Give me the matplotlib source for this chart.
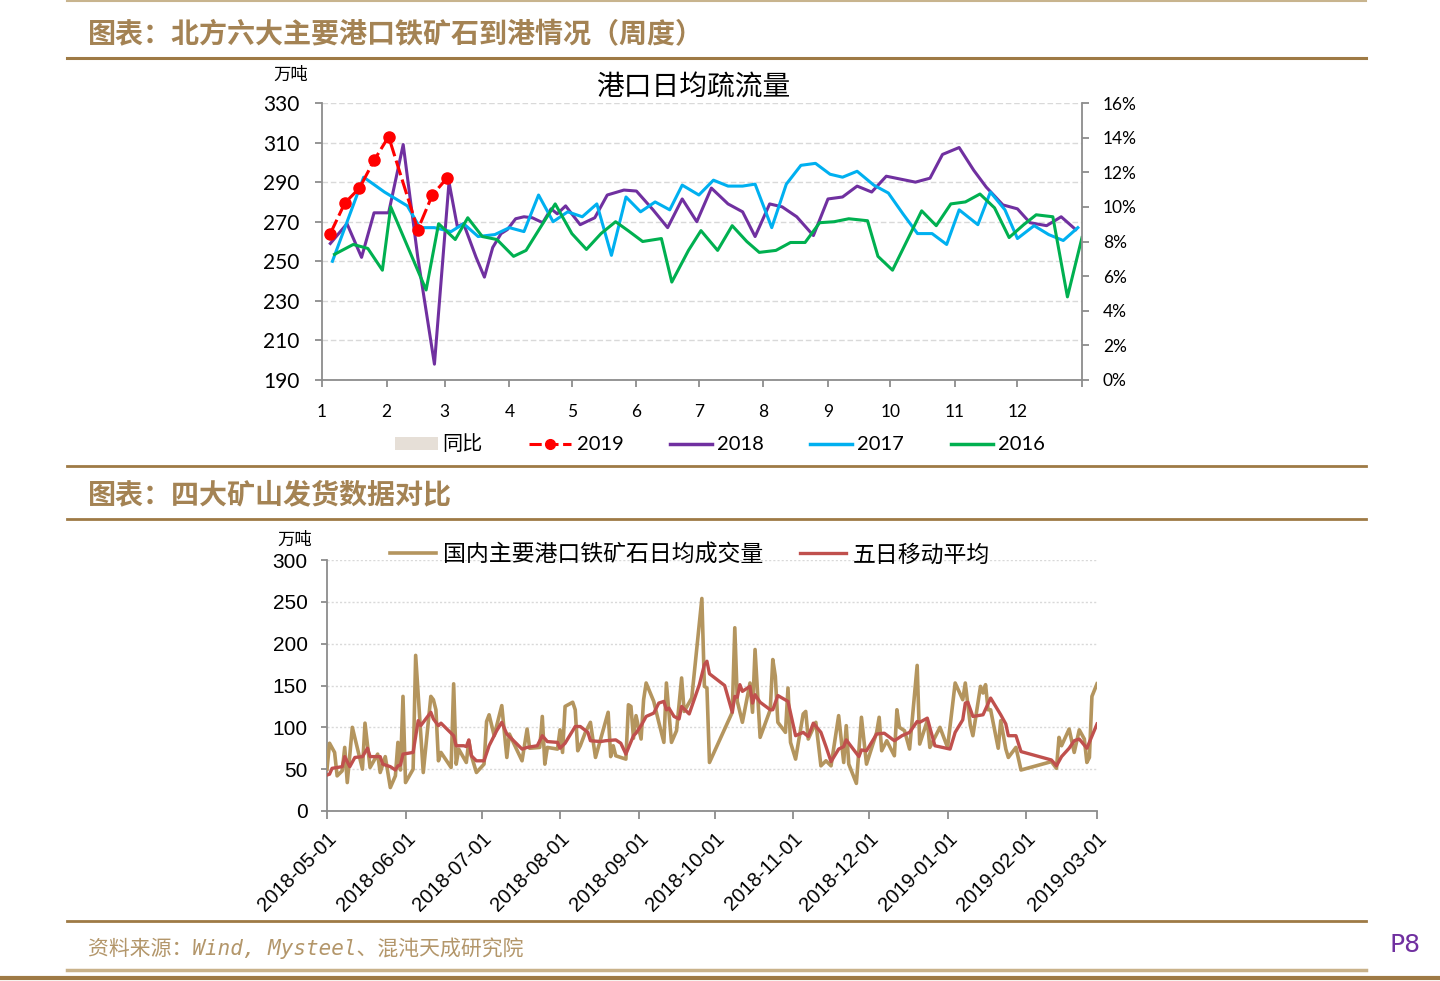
import numpy as np
import matplotlib
matplotlib.use('Agg')
import matplotlib.pyplot as plt
from matplotlib.lines import Line2D
from matplotlib.patches import Patch
from matplotlib.ticker import PercentFormatter

plt.rcParams['font.family'] = ['Lato', 'Noto Sans CJK SC', 'DejaVu Sans']

# ---- top chart: weekly port arrivals, x = day of year ----
month_start = [0, 31, 59, 90, 120, 151, 181, 212, 243, 273, 304, 334, 365]
month_labels = ['1', '2', '3', '4', '5', '6', '7', '8', '9', '10', '11', '12', '']

d2019 = [4, 11, 18, 25, 32, 46, 53, 60]
v2019 = [264, 279.5, 287, 301, 313, 266, 283.5, 292]

d2018 = [4, 12, 19, 25, 32, 39, 46, 54, 61, 65,
         68, 74, 78, 82, 86, 89, 93, 97, 101, 106,
         110, 113, 117, 124, 131, 137, 145, 151, 159, 166,
         173, 180, 187, 195, 202, 208, 215, 221, 228, 236,
         243, 250, 257, 264, 271, 278, 285, 292, 298, 306,
         313, 319, 327, 334, 340, 348, 355, 362]
v2018 = [259, 269, 252, 274.5, 274.5, 309, 252, 198, 290, 267.5,
         269, 252, 242, 257, 264, 266, 271.5, 272.5, 272, 269.5,
         276.5, 274, 278, 268.5, 272, 283.5, 286, 285.5, 276, 267,
         281.5, 270, 287, 279, 275, 262.5, 279, 277.5, 272.5, 263,
         281.5, 282.5, 288, 285, 293, 291.5, 290, 292, 304, 307.5,
         296, 287.5, 278.5, 276.5, 269.5, 268, 272.5, 266]

d2017 = [5, 20, 30, 41, 47, 54, 62, 68, 75, 83,
         90, 97, 104, 111, 118, 125, 132, 139, 146, 153,
         160, 167, 173, 181, 188, 195, 202, 208, 216, 223,
         230, 237, 244, 250, 257, 265, 272, 279, 286, 293,
         300, 306, 315, 321, 328, 334, 342, 349, 356, 363]
v2017 = [250, 292.5, 285, 278, 267, 267, 265, 269, 262.5, 263.5,
         267, 265, 283.5, 270, 275, 272.5, 279, 253, 282.5, 275,
         280, 276, 288.5, 283.5, 291, 288, 288, 289, 267, 289,
         298.5, 299.5, 294, 292.5, 295.5, 288.5, 284.5, 274, 264, 264,
         258.5, 276, 268.5, 285, 276, 261.5, 268, 263.5, 260.5, 267]

d2016 = [6, 15, 22, 29, 33, 50, 56, 64, 70, 77,
         84, 92, 98, 106, 112, 120, 127, 134, 141, 147,
         154, 163, 168, 176, 182, 190, 197, 204, 210, 218,
         225, 232, 239, 246, 253, 262, 267, 274, 281, 288,
         295, 302, 309, 316, 323, 330, 337, 343, 351, 358,
         365]
v2016 = [253.5, 258.5, 256.5, 245.5, 277.5, 235.5, 269, 261, 272, 262.5,
         261, 252.5, 255.5, 269, 279, 264, 256, 264, 270, 265.5,
         260, 261.5, 239.5, 255.5, 265.5, 255.5, 268, 260, 254.5, 255.5,
         259.5, 259.5, 269.5, 270, 271.5, 270.5, 252.5, 245.5, 260.5, 275.5,
         268, 279, 280, 284, 277, 262, 268.5, 273.5, 272.5, 232,
         262]

# ---- bottom chart: daily trades, x = days since 2018-05-01 ----
trade_days = [0, 1, 3, 4, 6, 7, 8, 10, 14, 15,
              17, 20, 21, 23, 25, 27, 28, 29, 30, 31,
              34, 35, 38, 41, 42, 43, 44, 45, 49, 50,
              51, 52, 55, 56, 57, 59, 62, 63, 64, 66,
              69, 71, 72, 77, 79, 80, 84, 85, 86, 87,
              91, 92, 93, 94, 97, 98, 99, 100, 102, 104,
              106, 111, 112, 113, 114, 118, 119, 120, 121, 122,
              124, 125, 126, 129, 131, 133, 134, 136, 138, 140,
              141, 144, 148, 149, 150, 151, 160, 161, 162, 164,
              167, 168, 169, 171, 175, 176, 177, 178, 181, 182,
              183, 185, 188, 189, 190, 193, 195, 197, 199, 202,
              204, 205, 206, 209, 211, 213, 217, 218, 219, 221,
              224, 225, 226, 228, 230, 233, 234, 237, 238, 241,
              242, 245, 248, 251, 252, 254, 255, 258, 259, 260,
              261, 262, 265, 266, 268, 269, 272, 274, 286, 288,
              289, 290, 293, 295, 297, 299, 300, 301, 302, 304]
trade_vals = [50, 81, 70, 42, 48, 76, 34, 100, 50, 105,
              52, 68, 46, 65, 28, 42, 82, 49, 137, 34,
              50, 186, 46, 137, 133, 121, 60, 70, 52, 152,
              56, 74, 58, 84, 66, 46, 56, 107, 115, 90,
              126, 64, 92, 60, 98, 75, 76, 113, 56, 76,
              74, 97, 70, 125, 130, 121, 72, 78, 94, 106,
              64, 118, 65, 78, 66, 62, 127, 125, 87, 114,
              86, 133, 153, 131, 106, 82, 153, 82, 96, 159,
              119, 135, 254, 149, 147, 58, 118, 219, 131, 106,
              153, 118, 193, 88, 121, 181, 161, 106, 94, 147,
              82, 62, 116, 119, 86, 106, 54, 60, 54, 114,
              58, 102, 56, 33, 112, 56, 94, 112, 72, 84,
              66, 121, 100, 96, 74, 174, 80, 108, 76, 94,
              100, 76, 153, 133, 153, 102, 90, 149, 141, 151,
              121, 121, 75, 108, 74, 64, 76, 49, 59, 51,
              88, 78, 98, 70, 97, 86, 58, 64, 137, 152]

ma_days = [0, 1, 2, 6, 7, 9, 11, 14, 16, 17,
           21, 22, 25, 27, 28, 29, 30, 34, 36, 37,
           41, 42, 44, 45, 50, 51, 54, 55, 56, 57,
           59, 62, 64, 67, 69, 71, 73, 77, 79, 83,
           85, 87, 91, 92, 94, 98, 100, 103, 104, 108,
           110, 114, 116, 118, 121, 122, 124, 126, 129, 131,
           133, 134, 135, 137, 139, 140, 143, 147, 149, 150,
           151, 157, 160, 161, 162, 163, 164, 167, 168, 169,
           171, 175, 176, 178, 182, 185, 188, 190, 192, 195,
           197, 199, 202, 204, 205, 210, 211, 213, 217, 220,
           224, 227, 230, 233, 234, 237, 240, 246, 248, 251,
           252, 253, 255, 259, 262, 266, 268, 269, 272, 274,
           286, 288, 290, 293, 295, 297, 300, 304]
ma_vals = [43, 44, 51, 53, 65, 53, 64, 65, 75, 65,
           65, 56, 53, 49, 54, 55, 68, 70, 108, 102,
           118, 110, 102, 105, 90, 78, 78, 77, 85, 66,
           60, 60, 78, 96, 106, 92, 86, 74, 76, 78,
           90, 83, 82, 75, 81, 101, 101, 94, 84, 83,
           84, 85, 81, 68, 90, 93, 102, 113, 117, 129,
           131, 121, 123, 113, 110, 125, 116, 151, 175, 179,
           164, 150, 118, 137, 136, 151, 143, 149, 129, 139,
           130, 121, 121, 138, 131, 90, 94, 89, 105, 94,
           77, 59, 74, 77, 85, 65, 73, 72, 92, 93,
           84, 90, 94, 107, 106, 111, 78, 74, 94, 109,
           129, 130, 113, 115, 135, 115, 104, 90, 90, 71,
           61, 54, 65, 75, 84, 86, 75, 104]

W, H = 1440, 981
def fx(px):
    return px / W
def fy(py):
    return 1 - py / H

brown = '#A48354'
line_brown = '#9E7A45'
grid_c = '#D9D9D9'
spine_c = '#8C8C8C'

fig = plt.figure(figsize=(14.4, 9.81), dpi=100)

# frame lines
for y, c, lw in [(1, '#C8B48E', 1.5), (58, line_brown, 2.2), (466, line_brown, 2.0),
                 (519, line_brown, 2.0), (921, line_brown, 2.0), (970, '#C9B28A', 2.5)]:
    fig.add_artist(Line2D([fx(67), fx(1366)], [fy(y), fy(y)], transform=fig.transFigure,
                          color=c, lw=lw))
fig.add_artist(Line2D([0, 1], [fy(978), fy(978)], transform=fig.transFigure,
                      color=line_brown, lw=3))

fig.text(fx(88), fy(35), '图表：北方六大主要港口铁矿石到港情况（周度）', fontsize=20.2,
         fontweight='bold', color=brown, va='center', family='Noto Sans CJK SC')
fig.text(fx(88), fy(495), '图表：四大矿山发货数据对比', fontsize=20.2,
         fontweight='bold', color=brown, va='center', family='Noto Sans CJK SC')
fig.text(fx(88), fy(948), '资料来源：Wind, Mysteel、混沌天成研究院', fontsize=15,
         color='#B3966A', va='center', style='italic',
         family=['DejaVu Sans Mono', 'Noto Sans CJK SC'])
fig.text(fx(1405), fy(945), 'P8', fontsize=18, color='#7030A0', ha='center', va='center',
         family='Liberation Sans Narrow')

# ---- top chart ----
ax1 = fig.add_axes([fx(322), fy(380), (1082 - 322) / W, (380 - 103) / H])
ax1.plot(d2018, v2018, color='#7030A0', lw=2.2, zorder=3)
ax1.plot(d2017, v2017, color='#00B0F0', lw=2.2, zorder=3)
ax1.plot(d2016, v2016, color='#00B050', lw=2.2, zorder=3)
ax1.plot(d2019, v2019, color='#FF0000', lw=2.2, ls=(0, (5, 1.5)), marker='o',
         markersize=8, zorder=4)
ax1.set_xlim(0, 365)
ax1.set_ylim(190, 330)
ax1.set_yticks(np.arange(190, 331, 20))
ax1.set_xticks(month_start)
ax1.set_xticklabels(month_labels)
ax1.grid(axis='y', color=grid_c, ls=(0, (4, 2)), lw=1)
ax1.set_axisbelow(True)
for s in ['top', 'right']:
    ax1.spines[s].set_visible(False)
for s in ['left', 'bottom']:
    ax1.spines[s].set_color(spine_c)
    ax1.spines[s].set_linewidth(1.3)
ax1.tick_params(axis='y', labelsize=15, length=5, color=spine_c, width=1.3, pad=11)
ax1.tick_params(axis='x', labelsize=12.5, length=5, color=spine_c, width=1.3, pad=12)

ax1r = ax1.twinx()
ax1r.set_ylim(0, 0.16)
ax1r.set_yticks(np.arange(0, 0.161, 0.02))
ax1r.yaxis.set_major_formatter(PercentFormatter(1.0, decimals=0))
for s in ['top', 'left', 'bottom']:
    ax1r.spines[s].set_visible(False)
ax1r.spines['right'].set_color(spine_c)
ax1r.spines['right'].set_linewidth(1.3)
ax1r.tick_params(axis='y', labelsize=12.5, length=5, color=spine_c, width=1.3, pad=10)

fig.text(fx(693), fy(88), '港口日均疏流量', fontsize=20, ha='center', va='center',
         family='Noto Sans CJK SC')
fig.text(fx(291), fy(75), '万吨', fontsize=12.5, ha='center', va='center',
         family='Noto Sans CJK SC')

handles = [Patch(facecolor='#E6DFD7', edgecolor='none'),
           Line2D([], [], color='#FF0000', lw=2.2, ls=(0, (4, 1.5)), marker='o', markersize=7),
           Line2D([], [], color='#7030A0', lw=2.5),
           Line2D([], [], color='#00B0F0', lw=2.5),
           Line2D([], [], color='#00B050', lw=2.5)]
fig.legend(handles, ['同比', '2019', '2018', '2017', '2016'], loc='center',
           bbox_to_anchor=(fx(720), fy(444)), ncol=5, frameon=False, fontsize=14.5,
           handlelength=2.1, handletextpad=0.25, columnspacing=2.3, handleheight=0.6)

# ---- bottom chart ----
start = np.datetime64('2018-05-01')
x_trade = start + np.array(trade_days).astype('timedelta64[D]')
x_ma = start + np.array(ma_days).astype('timedelta64[D]')
months = np.arange('2018-05', '2019-04', dtype='datetime64[M]').astype('datetime64[D]')

ax2 = fig.add_axes([fx(327), fy(811), (1097 - 327) / W, (811 - 560) / H])
l1, = ax2.plot(x_trade, trade_vals, color='#B4955E', lw=2.6, zorder=3)
l2, = ax2.plot(x_ma, ma_vals, color='#C0504D', lw=2.4, zorder=4)
ax2.set_xlim(months[0], months[-1])
ax2.set_ylim(0, 300)
ax2.set_yticks(np.arange(0, 301, 50))
ax2.set_xticks(months)
ax2.set_xticklabels([str(m) for m in months], rotation=45, ha='right',
                    rotation_mode='anchor', family='Liberation Sans')
for lab in ax2.get_yticklabels():
    lab.set_family('Liberation Sans')
ax2.grid(axis='y', color=grid_c, ls=(0, (1.5, 1.5)), lw=1)
ax2.set_axisbelow(True)
for s in ['top', 'right']:
    ax2.spines[s].set_visible(False)
for s in ['left', 'bottom']:
    ax2.spines[s].set_color(spine_c)
    ax2.spines[s].set_linewidth(1.3)
ax2.tick_params(axis='y', labelsize=15, length=4, color=spine_c, width=1.3, pad=10)
ax2.tick_params(axis='x', labelsize=14.5, length=6, color=spine_c, width=1.3, pad=7)

fig.text(fx(295), fy(540), '万吨', fontsize=12.5, ha='center', va='center',
         family='Noto Sans CJK SC')
fig.legend([l1, l2], ['国内主要港口铁矿石日均成交量', '五日移动平均'], loc='center',
           bbox_to_anchor=(fx(690), fy(555)), ncol=2, frameon=False,
           handlelength=2.0, handletextpad=0.3, columnspacing=1.6,
           prop={'family': 'Noto Sans CJK SC', 'size': 16.5})

fig.savefig('out.png', dpi=100)
